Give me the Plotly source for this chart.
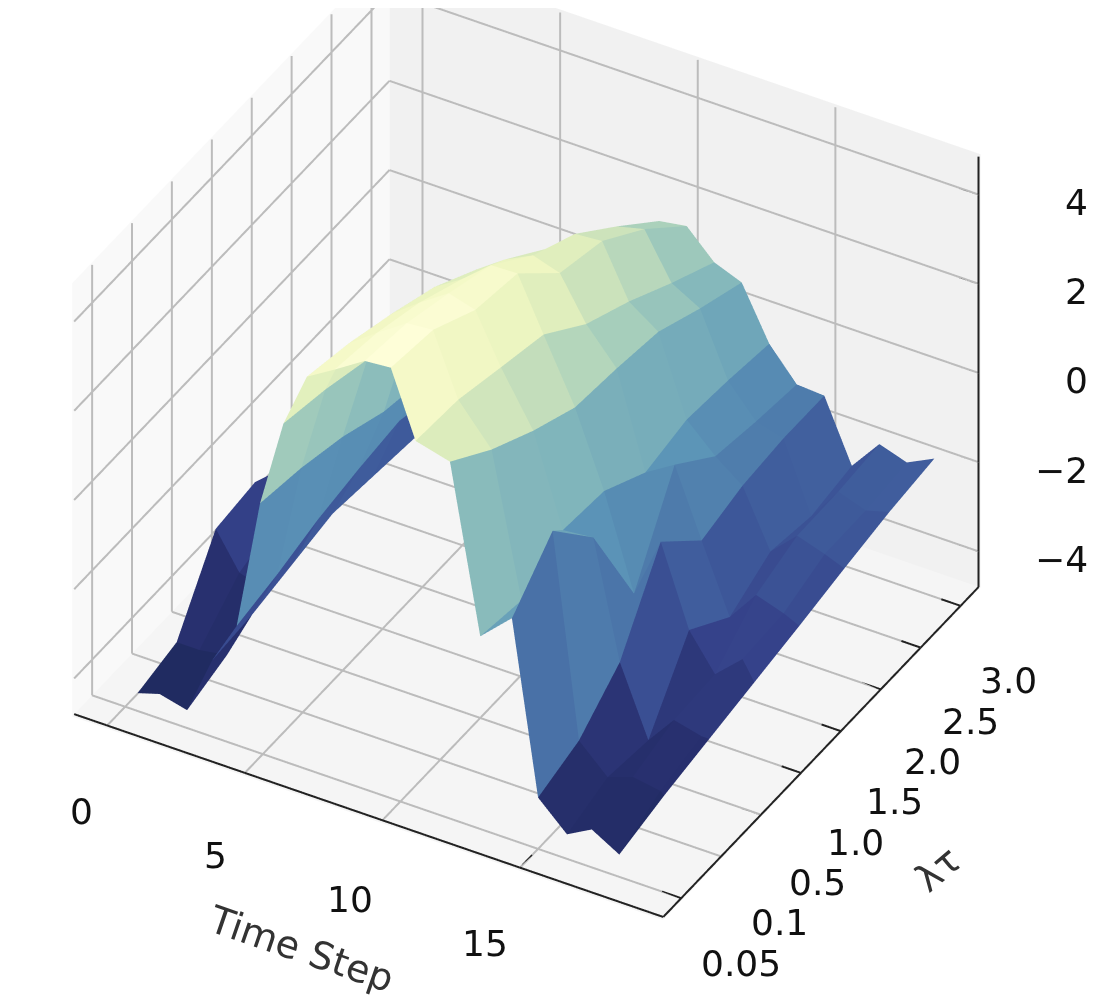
#!/usr/bin/env python3
"""Surface of a value over time step and lambda-tau, drawn as flat coloured cells."""

import plotly.colors as pc
import plotly.graph_objects as go

time_steps = [0.45, 1.25, 2.25, 3.15, 4.05, 4.9, 5.75, 6.6, 7.6, 8.7, 9.65, 10.55, 11.8, 12.9, 14.05, 15.0,
              16.05, 16.95, 17.95, 17.95]
# how far each column leans towards later time steps over the lambda-tau range;
# the last column fans out from the front corner to the far tip of the right foot
column_drift = [-0.2, 0, 0, 0.1, 0.2, 0.35, 0.5, 0.65, 0.65, 0.55, 0.6, 0.7, 0.45, 0.35, 0.2, 0.25, 0.2, 0.3, 0.3, 1.3]
row_pos = [0, 1, 2, 3, 4, 5, 6, 7]
row_labels = ['0.05', '0.1', '0.5', '1.0', '1.5', '2.0', '2.5', '3.0']

z_005 = [-4.4, -4.25, -4.4, -3.1, -2.13, 0.8, 2.77, 4.0, 4.37, 4.8, 4.85, 3.4, 3.2, -0.48, 0.17, -3.65, -4.25, -3.95, -4.3, -4.3]
z_01 = [-4.2, -4.2, -4.1, -3.0, -1.9, 0.67, 2.61, 3.84, 4.28, 4.73, 4.78, 3.41, 2.55, -0.6, 1.2, -3.3, -3.9, -3.7, -3.8, -3.87]
z_05 = [-2.6, -3.4, -3.6, -2.8, -1.6, 0.44, 2.36, 3.58, 4.04, 4.48, 4.31, 3.22, 2.05, 0.05, 0.12, -2.47, -4.0, -3.35, -3.5, -3.5]
z_10 = [-2.5, -3.1, -3.2, -2.6, -1.4, 0.08, 2.04, 3.26, 3.65, 4.19, 4.21, 3.04, 1.65, 0.0, -2.07, -0.7, -2.46, -3.25, -2.7, -3.13]
z_15 = [-3.0, -3.2, -3.2, -2.7, -1.25, -0.08, 1.63, 2.74, 3.17, 3.49, 3.3, 2.36, 1.6, -0.51, -0.11, -1.6, -3.1, -2.4, -2.6, -2.76]
z_20 = [-3.3, -3.4, -3.4, -2.8, -1.5, -0.2, 1.15, 2.1, 2.5, 3.05, 3.1, 1.95, 1.5, -0.25, -0.85, -1.3, -2.56, -2.0, -2.2, -2.37]
z_25 = [-3.7, -3.7, -3.6, -3.0, -1.8, -0.5, 0.7, 1.3, 1.7, 2.3, 2.45, 1.45, 1.1, -0.3, -1.0, -1.17, -2.7, -1.94, -2.15, -2.0]
z_30 = [-4.0, -3.9, -3.8, -3.2, -2.0, -0.8, 0.2, 0.6, 1.0, 1.5, 1.6, 1.0, 0.76, -0.4, -1.1, -1.14, -2.5, -1.8, -2.0, -1.7]
z_rows = [z_005, z_01, z_05, z_10, z_15, z_20, z_25, z_30]

# colours of the bands, matched to the value each band sits at
band_values = [-4.4, -3.6, -2.8, -2.0, -1.2, -0.4, 1.0, 1.8, 2.6, 3.4, 4.0, 4.8]
band_colors = ['#1e2a5e', '#28306f', '#35428a', '#3f5c9c', '#4c78aa', '#5d96b8',
               '#82b6bb', '#a4cdbb', '#c8e0bb', '#e6f2bd', '#f3f8c5', '#fefed8']

x_ticks = [0, 5, 10, 15]
z_ticks = [-4, -2, 0, 2, 4]
z_labels = ['−4', '−2', '0', '2', '4']
X_MIN, X_MAX = -1.2, 20.2
Y_MIN, Y_MAX = -0.45, 7.45
Z_MIN, Z_MAX = -4.8, 4.85
PAD = 0.03
TICK_FONT = dict(family='DejaVu Sans', size=36, color='#111111')
TITLE_FONT = dict(family='DejaVu Sans', size=38, color='#333333')


def cell_color(value):
    low, high = band_values[0], band_values[-1]
    scale = [[(v - low) / (high - low), c] for v, c in zip(band_values, band_colors)]
    level = min(max((value - low) / (high - low), 0), 1)
    return pc.sample_colorscale(scale, [level])[0]


def build_mesh():
    n_cols = len(time_steps)
    xs, ys, zs = [], [], []
    for j, row in enumerate(z_rows):
        for k, value in enumerate(row):
            xs.append(time_steps[k] + column_drift[k] * row_pos[j] / row_pos[-1])
            ys.append(row_pos[j])
            zs.append(value)

    i_idx, j_idx, k_idx, colors = [], [], [], []
    for j in range(len(z_rows) - 1):
        for k in range(n_cols - 1):
            a = j * n_cols + k
            b = a + 1
            c = a + n_cols
            d = c + 1
            color = cell_color((zs[a] + zs[b] + zs[c] + zs[d]) / 4)
            i_idx += [a, b]
            j_idx += [b, d]
            k_idx += [c, c]
            colors += [color, color]
    return xs, ys, zs, i_idx, j_idx, k_idx, colors


def segments(pairs):
    """Turn ((x0, y0, z0), (x1, y1, z1)) pairs into one broken line."""
    xs, ys, zs = [], [], []
    for start, end in pairs:
        xs += [start[0], end[0], None]
        ys += [start[1], end[1], None]
        zs += [start[2], end[2], None]
    return xs, ys, zs


def line_trace(pairs, color, width):
    xs, ys, zs = segments(pairs)
    return go.Scatter3d(x=xs, y=ys, z=zs, mode='lines', line=dict(color=color, width=width),
                        hoverinfo='skip', showlegend=False)


xs, ys, zs, i_idx, j_idx, k_idx, colors = build_mesh()

grid_pairs = []
for v in x_ticks:
    grid_pairs.append(((v, Y_MIN, Z_MIN), (v, Y_MAX, Z_MIN)))
    grid_pairs.append(((v, Y_MAX, Z_MIN), (v, Y_MAX, Z_MAX)))
for v in row_pos:
    grid_pairs.append(((X_MIN, v, Z_MIN), (X_MAX, v, Z_MIN)))
    grid_pairs.append(((X_MIN, v, Z_MIN), (X_MIN, v, Z_MAX)))
for v in z_ticks:
    grid_pairs.append(((X_MIN, Y_MIN, v), (X_MIN, Y_MAX, v)))
    grid_pairs.append(((X_MIN, Y_MAX, v), (X_MAX, Y_MAX, v)))

axis_pairs = [
    ((X_MIN, Y_MIN, Z_MIN), (X_MAX, Y_MIN, Z_MIN)),
    ((X_MAX, Y_MIN, Z_MIN), (X_MAX, Y_MAX, Z_MIN)),
    ((X_MAX, Y_MAX, Z_MIN), (X_MAX, Y_MAX, Z_MAX)),
]
for v in x_ticks:
    axis_pairs.append(((v, Y_MIN, Z_MIN), (v, Y_MIN + 0.3, Z_MIN)))
for v in row_pos:
    axis_pairs.append(((X_MAX - 0.7, v, Z_MIN), (X_MAX, v, Z_MIN)))
for v in z_ticks:
    axis_pairs.append(((X_MAX - 0.7, Y_MAX, v), (X_MAX, Y_MAX, v)))

fig = go.Figure()
fig.add_trace(line_trace(grid_pairs, '#bcbcbc', 4))
fig.add_trace(go.Mesh3d(
    x=xs, y=ys, z=zs, i=i_idx, j=j_idx, k=k_idx,
    facecolor=colors, flatshading=True,
    lighting=dict(ambient=1, diffuse=0, specular=0, roughness=1, fresnel=0),
    hoverinfo='skip'
))
fig.add_trace(line_trace(axis_pairs, '#222222', 4))

# tick labels and titles are placed by hand so they stay flat like the original
annotations = []
for n, v in enumerate(x_ticks):
    annotations.append(dict(x=v, y=Y_MIN, z=Z_MIN, text=str(v), showarrow=False, font=TICK_FONT,
                            xshift=-26 - 3 * n, yshift=-86 + 3.3 * n))
for v, label in zip(row_pos, row_labels):
    annotations.append(dict(x=X_MAX, y=v, z=Z_MIN, text=label, showarrow=False, font=TICK_FONT,
                            xshift=60 - 1.7 * v, yshift=-65 - 1.4 * v))
for v, label in zip(z_ticks, z_labels):
    annotations.append(dict(x=X_MAX, y=Y_MAX, z=v, text=label, showarrow=False, font=TICK_FONT,
                            xanchor='right', xshift=111, yshift=-8))
annotations.append(dict(x=8.5, y=Y_MIN, z=Z_MIN, text='Time Step', showarrow=False, font=TITLE_FONT,
                        textangle=19, xshift=-40, yshift=-143))
annotations.append(dict(x=X_MAX, y=2.5, z=Z_MIN, text='λτ', showarrow=False, font=TITLE_FONT,
                        textangle=-40, xshift=157, yshift=-75))

fig.update_layout(
    width=1105, height=1003,
    margin=dict(l=0, r=0, t=0, b=0),
    paper_bgcolor='white',
    showlegend=False,
    scene=dict(
        domain=dict(x=[0, 1], y=[0, 1]),
        aspectmode='manual',
        aspectratio=dict(x=1.358, y=1.273, z=1.08),
        camera=dict(
            eye=dict(x=0.647, y=-0.991, z=0.702),
            center=dict(x=0.059, y=0.034, z=-0.185),
            up=dict(x=0, y=0, z=1),
            projection=dict(type='orthographic'),
        ),
        xaxis=dict(
            range=[X_MIN - PAD, X_MAX + PAD], showgrid=False, zeroline=False, showline=False, ticks='',
            showticklabels=False, title=dict(text=''), showbackground=True, backgroundcolor='#f9f9f9',
            showspikes=False,
        ),
        yaxis=dict(
            range=[Y_MIN - PAD, Y_MAX + PAD], showgrid=False, zeroline=False, showline=False, ticks='',
            showticklabels=False, title=dict(text=''), showbackground=True, backgroundcolor='#f1f1f1',
            showspikes=False,
        ),
        zaxis=dict(
            range=[Z_MIN - PAD, Z_MAX + PAD], showgrid=False, zeroline=False, showline=False, ticks='',
            showticklabels=False, title=dict(text=''), showbackground=True, backgroundcolor='#f5f5f5',
            showspikes=False,
        ),
        annotations=annotations,
    ),
)

fig.write_html('out.html', config={'displayModeBar': False})
